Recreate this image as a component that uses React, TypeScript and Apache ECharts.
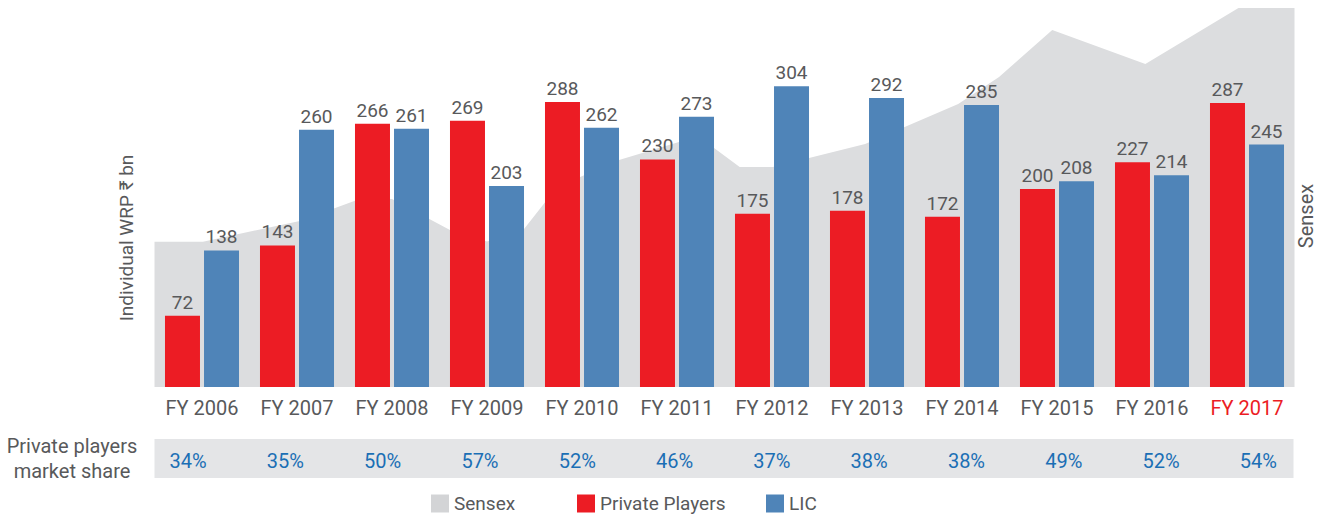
import React, { useEffect, useRef } from "react";
import * as echarts from "echarts";

const categories = ["FY 2006", "FY 2007", "FY 2008", "FY 2009", "FY 2010", "FY 2011", "FY 2012", "FY 2013", "FY 2014", "FY 2015", "FY 2016", "FY 2017"];
const privatePlayers = [72, 143, 266, 269, 288, 230, 175, 178, 172, 200, 227, 287];
const lic = [138, 260, 261, 203, 262, 273, 304, 292, 285, 208, 214, 245];
const marketShare = ["34%", "35%", "50%", "57%", "52%", "46%", "37%", "38%", "38%", "49%", "52%", "54%"];
// Sensex trend (position along the 12 fiscal-year bands, index level)
const sensexX = [0, 0.51, 1.53, 2.16, 2.5, 3.11, 3.5, 3.89, 4.13, 4.48, 4.89, 5.52, 5.89, 6.16, 6.51, 6.89, 7.48, 8.46, 8.89, 9.45, 10.43, 11.41, 12];
const sensexY = [11500, 11500, 13140, 14880, 14880, 12430, 11520, 12510, 14800, 16620, 17970, 19390, 18920, 17410, 17410, 18130, 19240, 22400, 24540, 28260, 25570, 30000, 30000];

const FONT = "Roboto, 'Open Sans', 'DejaVu Sans', sans-serif";
const GREY_TEXT = "#58595b";
const RED = "#ec1c24";
const BLUE = "#4f84b8";
const SHARE_BLUE = "#1b6fb5";

export default function App() {
  const ref = useRef<HTMLDivElement>(null);

  useEffect(() => {
    document.body.style.margin = "0";
    if (!ref.current) return;
    const chart = echarts.init(ref.current, undefined, { renderer: "svg" });

    const labelStyle = {
      show: true,
      position: "top" as const,
      distance: 4,
      color: GREY_TEXT,
      fontSize: 19,
      fontFamily: FONT,
    };

    const legendText = { fontSize: 19, color: GREY_TEXT, fontFamily: FONT, padding: [0, 0, 0, 0] };

    chart.setOption({
      animation: false,
      textStyle: { fontFamily: FONT },
      grid: [
        { left: 154.5, right: 30.5, top: 8, bottom: 130 },
        { left: 139.4, right: 18, top: 8, bottom: 130 },
      ],
      xAxis: [
        {
          type: "category",
          data: categories,
          gridIndex: 0,
          axisLine: { show: false },
          axisTick: { show: false },
          axisLabel: {
            margin: 11,
            fontSize: 20,
            fontFamily: FONT,
            color: (_v: string, i: number) => (i === categories.length - 1 ? RED : GREY_TEXT),
          },
        },
        { type: "value", gridIndex: 0, min: 0, max: 12, show: false },
        {
          type: "category",
          data: marketShare,
          gridIndex: 1,
          position: "bottom",
          offset: 56,
          axisLine: { show: false },
          axisTick: { show: false },
          axisLabel: { margin: 8, fontSize: 20, fontFamily: FONT, color: SHARE_BLUE },
          z: 5,
        },
      ],
      yAxis: [
        { type: "value", gridIndex: 0, min: 0, max: 383, show: false },
        { type: "value", gridIndex: 0, min: 0, max: 30000, show: false },
        { type: "value", gridIndex: 1, min: 0, max: 1, show: false },
      ],
      legend: [
        { data: ["Sensex"], left: 429, top: 492, padding: 2, icon: "rect", itemWidth: 18, itemHeight: 18, textStyle: legendText },
        { data: ["Private Players"], left: 575, top: 492, padding: 2, icon: "rect", itemWidth: 18, itemHeight: 18, textStyle: legendText },
        { data: ["LIC"], left: 764, top: 492, padding: 2, icon: "rect", itemWidth: 18, itemHeight: 18, textStyle: legendText },
      ],
      graphic: [
        {
          type: "rect",
          z: -1,
          shape: { x: 154.5, y: 439, width: 1139, height: 39 },
          style: { fill: "#e4e5e7" },
        },
        {
          type: "text",
          x: 72,
          y: 458,
          style: {
            text: "Private players\nmarket share",
            textAlign: "center",
            textVerticalAlign: "middle",
            fontSize: 20,
            lineHeight: 25,
            fontFamily: FONT,
            fill: GREY_TEXT,
          },
        },
        {
          type: "text",
          x: 126,
          y: 238,
          rotation: Math.PI / 2,
          style: {
            text: "Individual WRP ₹ bn",
            textAlign: "center",
            textVerticalAlign: "middle",
            fontSize: 19,
            fontFamily: FONT,
            fill: GREY_TEXT,
          },
        },
        {
          type: "text",
          x: 1306,
          y: 216,
          rotation: Math.PI / 2,
          style: {
            text: "Sensex",
            textAlign: "center",
            textVerticalAlign: "middle",
            fontSize: 20,
            fontFamily: FONT,
            fill: GREY_TEXT,
          },
        },
      ],
      series: [
        {
          name: "Sensex",
          type: "line",
          xAxisIndex: 1,
          yAxisIndex: 1,
          data: sensexX.map((x, i) => [x, sensexY[i]]),
          symbol: "none",
          lineStyle: { width: 0 },
          itemStyle: { color: "#d3d4d6" },
          areaStyle: { color: "#dcdddf", opacity: 1 },
          z: 1,
        },
        {
          name: "Private Players",
          type: "bar",
          xAxisIndex: 0,
          yAxisIndex: 0,
          data: privatePlayers,
          barWidth: 35,
          barGap: "11.5%",
          itemStyle: { color: RED },
          label: labelStyle,
          z: 3,
        },
        {
          name: "LIC",
          type: "bar",
          xAxisIndex: 0,
          yAxisIndex: 0,
          data: lic,
          barWidth: 35,
          barGap: "11.5%",
          itemStyle: { color: BLUE },
          label: labelStyle,
          z: 3,
        },
      ],
    });

    return () => chart.dispose();
  }, []);

  return <div ref={ref} style={{ width: 1325, height: 517 }} />;
}
